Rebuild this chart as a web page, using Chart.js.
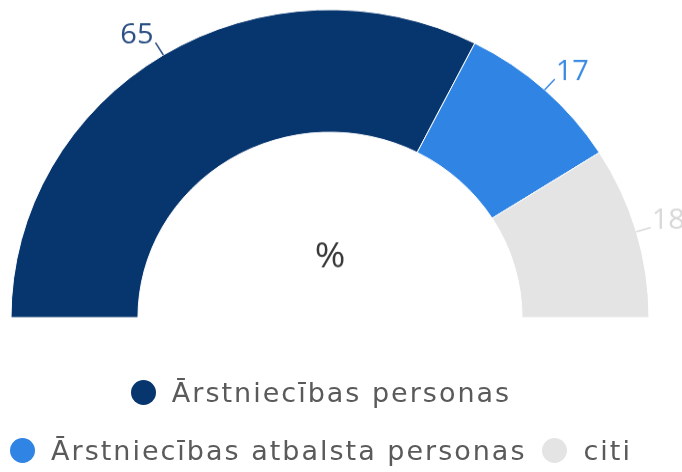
<!DOCTYPE html>
<html>
<head>
<meta charset="utf-8">
<script src="https://cdn.jsdelivr.net/npm/chart.js@4"></script>
<style>
  html, body { margin: 0; padding: 0; background: #fff; overflow: hidden; }
  #wrap { position: relative; width: 682px; height: 472px; overflow: hidden; }
  #chart { position: absolute; left: 0; top: 0; transform: scaleY(0.9652); transform-origin: 0 0; }
  #legend {
    position: absolute; left: -20px; top: 363px; width: 682px;
    display: flex; flex-wrap: wrap; justify-content: center;
    font-family: 'DejaVu Sans', sans-serif; font-size: 27px; letter-spacing: 2px; color: #5a5a5a;
  }
  #legend .item { display: flex; align-items: center; height: 58px; margin: 0 8px; white-space: nowrap; }
  #legend .dot { width: 25px; height: 25px; border-radius: 50%; margin-right: 16px; flex: none; }
</style>
</head>
<body>
<div id="wrap">
  <canvas id="chart" width="682" height="489"></canvas>
  <div id="legend"></div>
</div>
<script>
const categories = ['Ārstniecības personas', 'Ārstniecības atbalsta personas', 'citi'];
const values = [65, 17, 18];
const colors = ['#07356e', '#2f84e4', '#e4e4e4'];
const labelColors = ['#2b4f82', '#3a8ae4', '#d8d8d8'];
const centerText = '%';

// value labels with short leader lines + the % in the middle
const sliceLabels = {
  id: 'sliceLabels',
  afterDatasetsDraw(chart) {
    const { ctx } = chart;
    const arcs = chart.getDatasetMeta(0).data;
    ctx.save();
    ctx.font = '29px "Open Sans"';
    ctx.lineWidth = 1.5;
    arcs.forEach((arc, i) => {
      const { x, y, startAngle, endAngle, outerRadius } = arc.getProps(['x', 'y', 'startAngle', 'endAngle', 'outerRadius'], true);
      const mid = (startAngle + endAngle) / 2;
      const cos = Math.cos(mid), sin = Math.sin(mid);
      const x0 = x + cos * outerRadius, y0 = y + sin * outerRadius;
      const x1 = x + cos * (outerRadius + 15), y1 = y + sin * (outerRadius + 15);
      ctx.strokeStyle = labelColors[i];
      ctx.beginPath();
      ctx.moveTo(x0, y0);
      ctx.lineTo(x1, y1);
      ctx.stroke();
      ctx.fillStyle = labelColors[i];
      ctx.textBaseline = 'alphabetic';
      ctx.textAlign = cos < 0 ? 'right' : 'left';
      ctx.fillText(String(values[i]), x1 + (cos < 0 ? -2 : 1), y1 + 1);
    });
    const a = arcs[0];
    ctx.fillStyle = '#3a3a3a';
    ctx.font = '37px "Open Sans"';
    ctx.textAlign = 'center';
    ctx.textBaseline = 'middle';
    ctx.fillText(centerText, a.x, a.y - 63);
    ctx.restore();
  }
};

new Chart(document.getElementById('chart'), {
  type: 'doughnut',
  data: {
    labels: categories,
    datasets: [{
      data: values,
      backgroundColor: colors,
      borderColor: '#ffffff',
      borderWidth: 1,
      radius: 319,
      cutout: '60.2%'
    }]
  },
  options: {
    responsive: false,
    animation: false,
    rotation: -90,
    circumference: 180,
    layout: { padding: { left: 11, right: 33, top: 10, bottom: 160 } },
    plugins: { legend: { display: false }, tooltip: { enabled: false } }
  },
  plugins: [sliceLabels]
});

const legendEl = document.getElementById('legend');
categories.forEach((c, i) => {
  const item = document.createElement('div');
  item.className = 'item';
  const dot = document.createElement('span');
  dot.className = 'dot';
  dot.style.background = colors[i];
  const txt = document.createElement('span');
  txt.textContent = c;
  item.append(dot, txt);
  legendEl.appendChild(item);
});
</script>
</body>
</html>
